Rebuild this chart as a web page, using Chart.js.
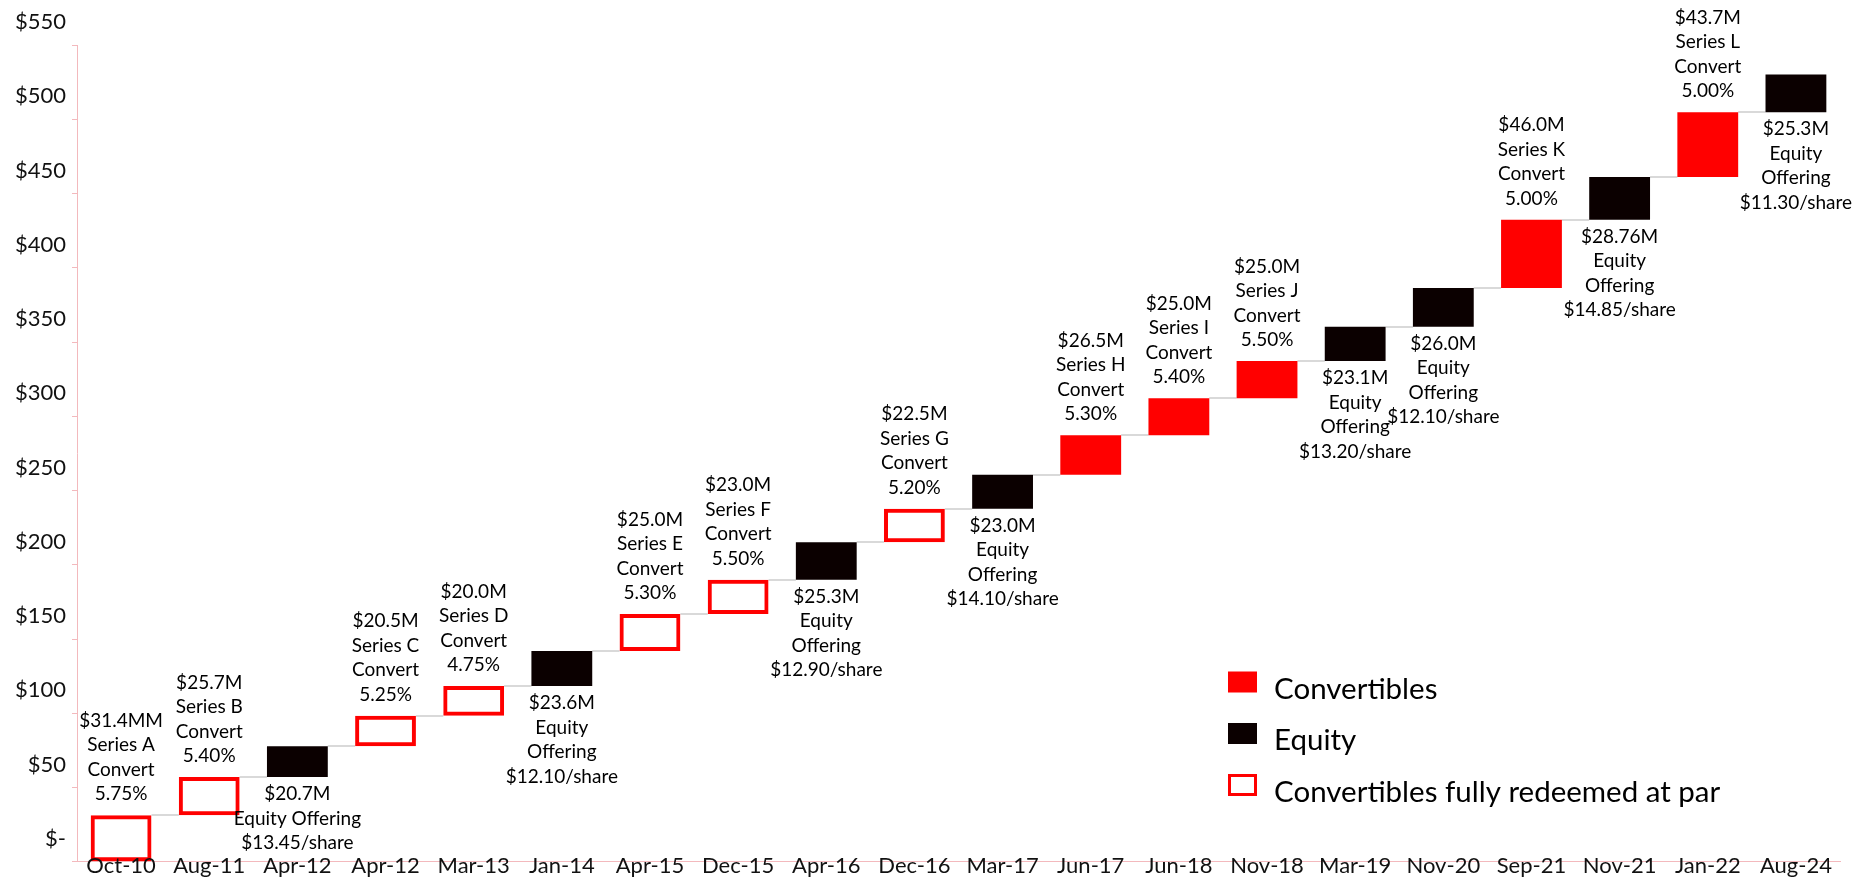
<!DOCTYPE html>
<html>
<head>
<meta charset="utf-8">
<title>Capital raises</title>
<script src="https://cdn.jsdelivr.net/npm/chart.js@4.4.0/dist/chart.umd.min.js"></script>
<style>
  html, body { margin: 0; padding: 0; background: #fff; }
  canvas { display: block; }
</style>
</head>
<body>
<canvas id="chart" width="1876" height="881"></canvas>
<script>
// --- DATOS ---
const categories = ['Oct-10', 'Aug-11', 'Apr-12', 'Apr-12', 'Mar-13', 'Jan-14', 'Apr-15', 'Dec-15', 'Apr-16', 'Dec-16',
  'Mar-17', 'Jun-17', 'Jun-18', 'Nov-18', 'Mar-19', 'Nov-20', 'Sep-21', 'Nov-21', 'Jan-22', 'Aug-24'];

// amount raised in each event ($M)
const amounts = [31.4, 25.7, 20.7, 20.5, 20.0, 23.6, 25.0, 23.0, 25.3, 22.5,
  23.0, 26.5, 25.0, 25.0, 23.1, 26.0, 46.0, 28.76, 43.7, 25.3];

// convert = convertibles, equity = equity offering, redeemed = convertibles fully redeemed at par
const kinds = ['redeemed', 'redeemed', 'equity', 'redeemed', 'redeemed', 'equity', 'redeemed', 'redeemed', 'equity', 'redeemed',
  'equity', 'convert', 'convert', 'convert', 'equity', 'equity', 'convert', 'equity', 'convert', 'equity'];

const barLabels = [
  ['$31.4MM', 'Series A', 'Convert', '5.75%'],
  ['$25.7M', 'Series B', 'Convert', '5.40%'],
  ['$20.7M', 'Equity Offering', '$13.45/share'],
  ['$20.5M', 'Series C', 'Convert', '5.25%'],
  ['$20.0M', 'Series D', 'Convert', '4.75%'],
  ['$23.6M', 'Equity', 'Offering', '$12.10/share'],
  ['$25.0M', 'Series E', 'Convert', '5.30%'],
  ['$23.0M', 'Series F', 'Convert', '5.50%'],
  ['$25.3M', 'Equity', 'Offering', '$12.90/share'],
  ['$22.5M', 'Series G', 'Convert', '5.20%'],
  ['$23.0M', 'Equity', 'Offering', '$14.10/share'],
  ['$26.5M', 'Series H', 'Convert', '5.30%'],
  ['$25.0M', 'Series I', 'Convert', '5.40%'],
  ['$25.0M', 'Series J', 'Convert', '5.50%'],
  ['$23.1M', 'Equity', 'Offering', '$13.20/share'],
  ['$26.0M', 'Equity', 'Offering', '$12.10/share'],
  ['$46.0M', 'Series K', 'Convert', '5.00%'],
  ['$28.76M', 'Equity', 'Offering', '$14.85/share'],
  ['$43.7M', 'Series L', 'Convert', '5.00%'],
  ['$25.3M', 'Equity', 'Offering', '$11.30/share']
];

const yTicks = [0, 50, 100, 150, 200, 250, 300, 350, 400, 450, 500, 550];

const seriesNames = {
  convert: 'Convertibles',
  equity: 'Equity',
  redeemed: 'Convertibles fully redeemed at par'
};

// --- ESTILOS ---
const RED = '#ff0000';
const BLACK = '#0b0000';
const AXIS_PINK = '#f3b9bd';
const CONNECTOR = '#d9d9d9';
const FONT = 'Lato';

// waterfall: each bar floats from the running total
let running = 0;
const ranges = amounts.map(a => {
  const r = [running, running + a];
  running += a;
  return r;
});

function rangesFor(kind) {
  return ranges.map((r, i) => (kinds[i] === kind ? r : null));
}

// element drawn for category i, whichever dataset holds it
function barAt(chart, i) {
  for (let d = 0; d < chart.data.datasets.length; d++) {
    if (chart.data.datasets[d].data[i] !== null) {
      return chart.getDatasetMeta(d).data[i];
    }
  }
  return null;
}

const connectorPlugin = {
  id: 'connectors',
  beforeDatasetsDraw(chart) {
    const { ctx, scales: { y } } = chart;
    ctx.save();
    ctx.strokeStyle = CONNECTOR;
    ctx.lineWidth = 2;
    for (let i = 0; i < categories.length - 1; i++) {
      const a = barAt(chart, i);
      const b = barAt(chart, i + 1);
      const py = Math.round(y.getPixelForValue(ranges[i][1]));
      ctx.beginPath();
      ctx.moveTo(a.x + a.width / 2, py);
      ctx.lineTo(b.x - b.width / 2, py);
      ctx.stroke();
    }
    ctx.restore();
  }
};

const labelPlugin = {
  id: 'barLabels',
  afterDatasetsDraw(chart) {
    const { ctx, scales: { y } } = chart;
    const lineH = 24.5;
    ctx.save();
    ctx.font = `19px ${FONT}`;
    ctx.fillStyle = '#000';
    ctx.textAlign = 'center';
    ctx.textBaseline = 'middle';
    barLabels.forEach((lines, i) => {
      const bar = barAt(chart, i);
      if (kinds[i] === 'equity') {
        const start = y.getPixelForValue(ranges[i][0]) + 17;
        lines.forEach((t, k) => ctx.fillText(t, bar.x, start + k * lineH));
      } else {
        const last = y.getPixelForValue(ranges[i][1]) - 21;
        lines.forEach((t, k) => ctx.fillText(t, bar.x, last - (lines.length - 1 - k) * lineH));
      }
    });
    ctx.restore();
  }
};

const legendPlugin = {
  id: 'sideLegend',
  afterDraw(chart) {
    const { ctx } = chart;
    const items = [
      { text: seriesNames.convert, fill: RED, stroke: null },
      { text: seriesNames.equity, fill: BLACK, stroke: null },
      { text: seriesNames.redeemed, fill: '#fff', stroke: RED }
    ];
    ctx.save();
    ctx.font = `29.5px ${FONT}`;
    ctx.textBaseline = 'middle';
    ctx.textAlign = 'left';
    items.forEach((it, k) => {
      const cy = 682 + k * 51.5;
      if (it.stroke) {
        ctx.fillStyle = it.fill;
        ctx.fillRect(1229, cy - 10, 27, 20);
        ctx.strokeStyle = it.stroke;
        ctx.lineWidth = 3;
        ctx.strokeRect(1229.5, cy - 9.5, 26, 19);
      } else {
        ctx.fillStyle = it.fill;
        ctx.fillRect(1228, cy - 10.5, 29, 21);
      }
      ctx.fillStyle = '#000';
      ctx.fillText(it.text, 1274, cy + 7);
    });
    ctx.restore();
  }
};

const ctx = document.getElementById('chart').getContext('2d');

new Chart(ctx, {
  type: 'bar',
  data: {
    labels: categories,
    datasets: [
      {
        label: seriesNames.convert,
        data: rangesFor('convert'),
        backgroundColor: RED,
        borderWidth: 0
      },
      {
        label: seriesNames.equity,
        data: rangesFor('equity'),
        backgroundColor: BLACK,
        borderWidth: 0
      },
      {
        label: seriesNames.redeemed,
        data: rangesFor('redeemed'),
        backgroundColor: 'rgba(255,255,255,0)',
        borderColor: RED,
        borderWidth: 4,
        borderSkipped: false
      }
    ]
  },
  options: {
    responsive: false,
    animation: false,
    categoryPercentage: 1,
    barPercentage: 0.69,
    layout: { padding: { top: 45, right: 36, left: 0, bottom: 0 } },
    plugins: {
      legend: { display: false },
      tooltip: { enabled: false }
    },
    scales: {
      x: {
        stacked: true,
        grid: { drawOnChartArea: false, drawTicks: false },
        border: { color: AXIS_PINK, width: 1 },
        ticks: {
          font: { family: FONT, size: 22 },
          color: '#111',
          // mirrored so the labels sit across the axis line without being clipped
          mirror: true,
          padding: -17,
          maxRotation: 0,
          autoSkip: false,
          z: 1
        },
        afterFit: s => { s.height = 16; }
      },
      y: {
        min: 0,
        max: 550,
        afterBuildTicks: s => { s.ticks = yTicks.map(v => ({ value: v })); },
        grid: { drawOnChartArea: false, drawTicks: true, tickLength: 5, color: AXIS_PINK },
        border: { color: AXIS_PINK, width: 1 },
        ticks: {
          font: { family: FONT, size: 22 },
          color: '#111',
          padding: 6,
          labelOffset: -23,
          callback: v => (v === 0 ? '$-' : '$' + v)
        },
        afterFit: s => { s.width = 77; }
      }
    }
  },
  plugins: [connectorPlugin, labelPlugin, legendPlugin]
});
</script>
</body>
</html>
